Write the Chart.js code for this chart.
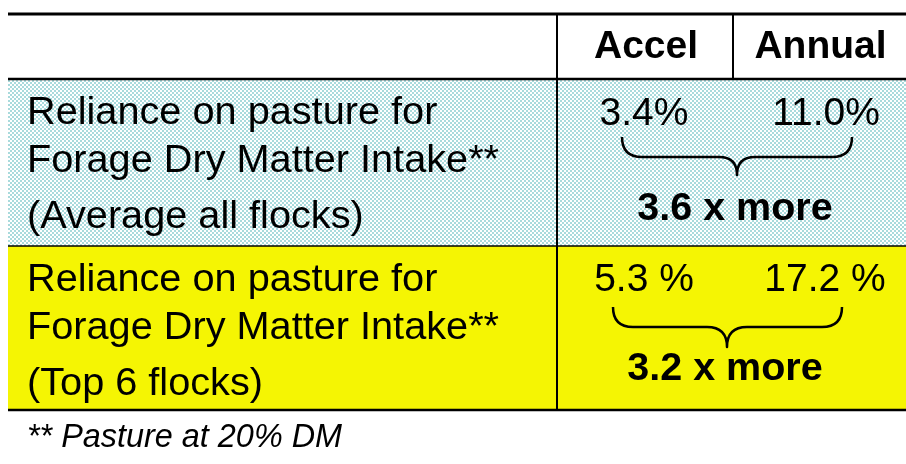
<!DOCTYPE html>
<html>
<head>
<meta charset="utf-8">
<script src="https://cdn.jsdelivr.net/npm/chart.js@4/dist/chart.umd.min.js"></script>
<style>
  body { margin: 0; background: #fff; }
  #wrap { width: 906px; height: 464px; }
</style>
</head>
<body>
<div id="wrap"><canvas id="tbl" width="906" height="464"></canvas></div>
<script>
// table content
const colHeaders = ['', 'Accel', 'Annual']
const rowLabels = [
  ['Reliance on pasture for', 'Forage Dry Matter Intake**', '(Average all flocks)'],
  ['Reliance on pasture for', 'Forage Dry Matter Intake**', '(Top 6 flocks)']
]
const accelValues = [3.4, 5.3]
const annualValues = [11.0, 17.2]
const valueSuffix = ['%', ' %']
const ratioValues = [3.6, 3.2]
const footnote = '** Pasture at 20% DM'

// layout (in scale units, 1 unit = 1px)
const colEdges = [8, 557, 733, 906]
const rowEdges = [14, 79, 246, 410]
const lineOffsets = [45, 93, 149]
const rowStyle = [
  { fill: 'pattern', valCenters: [644, 826], valBase: 46, brace: [622, 852, 737], braceY: [58, 78, 96], ratioX: 735, ratioBase: 141 },
  { fill: '#f5f503', valCenters: [644, 825], valBase: 45, brace: [613, 842, 727], braceY: [61, 81, 101], ratioX: 725, ratioBase: 134 }
]
const FONT = '"Liberation Sans", Arial, sans-serif'

function checker() {
  const c = document.createElement('canvas')
  c.width = 4; c.height = 4
  const g = c.getContext('2d')
  g.fillStyle = '#ffffff'; g.fillRect(0, 0, 4, 4)
  g.fillStyle = '#a9dadc'
  g.fillRect(0, 0, 2, 2); g.fillRect(2, 2, 2, 2)
  return c
}

function drawBrace(ctx, x0, x1, xm, yTop, yMid, yTip) {
  const r = yMid - yTop
  ctx.beginPath()
  ctx.moveTo(x0, yTop)
  ctx.quadraticCurveTo(x0, yMid, x0 + r, yMid)
  ctx.lineTo(xm - (yTip - yMid), yMid)
  ctx.quadraticCurveTo(xm, yMid, xm, yTip)
  ctx.quadraticCurveTo(xm, yMid, xm + (yTip - yMid), yMid)
  ctx.lineTo(x1 - r, yMid)
  ctx.quadraticCurveTo(x1, yMid, x1, yTop)
  ctx.stroke()
}

const tablePlugin = {
  id: 'tablePlugin',
  afterDraw(chart) {
    const ctx = chart.ctx
    const sx = chart.scales.x, sy = chart.scales.y
    const X = v => sx.getPixelForValue(v)
    const Y = v => sy.getPixelForValue(v)
    const pat = ctx.createPattern(checker(), 'repeat')
    ctx.save()

    // row backgrounds
    rowStyle.forEach((st, i) => {
      ctx.fillStyle = st.fill === 'pattern' ? pat : st.fill
      ctx.fillRect(X(colEdges[0]), Y(rowEdges[i + 1]), X(colEdges[3]) - X(colEdges[0]), Y(rowEdges[i + 2]) - Y(rowEdges[i + 1]))
    })

    // grid lines
    ctx.strokeStyle = '#000'
    const hline = (y, w) => { ctx.lineWidth = w; ctx.beginPath(); ctx.moveTo(X(colEdges[0]), Y(y)); ctx.lineTo(X(colEdges[3]), Y(y)); ctx.stroke() }
    hline(rowEdges[0], 3)
    hline(rowEdges[1], 2.5)
    hline(rowEdges[2], 1.5)
    hline(rowEdges[3], 2.5)
    ctx.lineWidth = 2
    ctx.beginPath(); ctx.moveTo(X(colEdges[1]), Y(rowEdges[0])); ctx.lineTo(X(colEdges[1]), Y(rowEdges[3])); ctx.stroke()
    ctx.beginPath(); ctx.moveTo(X(colEdges[2]), Y(rowEdges[0])); ctx.lineTo(X(colEdges[2]), Y(rowEdges[1])); ctx.stroke()

    ctx.fillStyle = '#000'
    ctx.textBaseline = 'alphabetic'

    // header
    ctx.font = 'bold 39px ' + FONT
    ctx.textAlign = 'center'
    for (let c = 1; c < colHeaders.length; c++) {
      ctx.fillText(colHeaders[c], (X(colEdges[c]) + X(colEdges[c + 1])) / 2 + 1, Y(58))
    }

    // rows
    rowStyle.forEach((st, i) => {
      const top = rowEdges[i + 1]
      ctx.font = '39.7px ' + FONT
      ctx.textAlign = 'left'
      rowLabels[i].forEach((t, k) => ctx.fillText(t, X(27), Y(top + lineOffsets[k])))

      ctx.font = '39px ' + FONT
      ctx.textAlign = 'center'
      ctx.fillText(accelValues[i].toFixed(1) + valueSuffix[i], X(st.valCenters[0]), Y(top + st.valBase))
      ctx.fillText(annualValues[i].toFixed(1) + valueSuffix[i], X(st.valCenters[1]), Y(top + st.valBase))

      ctx.lineWidth = 2.5
      ctx.lineJoin = 'round'
      drawBrace(ctx, X(st.brace[0]), X(st.brace[1]), X(st.brace[2]), Y(top + st.braceY[0]), Y(top + st.braceY[1]), Y(top + st.braceY[2]))

      ctx.font = 'bold 39.5px ' + FONT
      ctx.fillText(ratioValues[i].toFixed(1) + ' x more', X(st.ratioX), Y(top + st.ratioBase))
    })

    // footnote
    ctx.font = 'italic 32.4px ' + FONT
    ctx.textAlign = 'left'
    ctx.fillText(footnote, X(27), Y(447))
    ctx.restore()
  }
}

new Chart(document.getElementById('tbl'), {
  type: 'scatter',
  data: { datasets: [] },
  options: {
    responsive: false,
    animation: false,
    layout: { padding: 0 },
    plugins: { legend: { display: false }, tooltip: { enabled: false } },
    scales: {
      x: { type: 'linear', min: 0, max: 906, display: false },
      y: { type: 'linear', min: 0, max: 464, reverse: true, display: false }
    }
  },
  plugins: [tablePlugin]
})
</script>
</body>
</html>
